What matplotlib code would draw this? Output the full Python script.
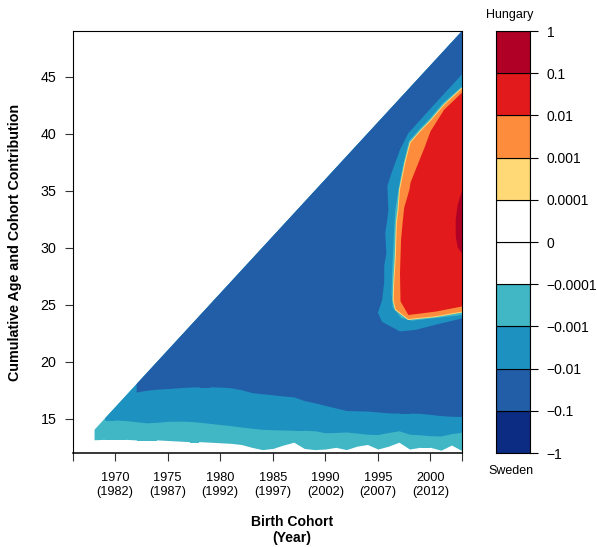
import matplotlib.pyplot as plt
from matplotlib.patches import Polygon, Rectangle

plt.rcParams['font.family'] = ['Liberation Sans', 'DejaVu Sans']

# niveles del contorno y colores (negativo = Sweden, positivo = Hungary)
niveles = ['\u22121', '\u22120.1', '\u22120.01', '\u22120.001', '\u22120.0001',
           '0', '0.0001', '0.001', '0.01', '0.1', '1']
colores = ['#0c2c84', '#225ea8', '#1d91c0', '#41b6c4', '#ffffff',
           '#ffffff', '#fed976', '#fd8d3c', '#e31a1c', '#b10026']

# ventana observada: edad maxima por cohorte
obs_cohortes = [1968, 2003]
obs_edad_max = [14, 49]

cohortes = list(range(1968, 2004))
# limite inferior de la banda -0.001..-0.0001 (por debajo blanco)
borde_blanco = [13.16, 13.2, 13.2, 13.2, 13.15, 13.15, 13.15, 13.1, 13.05, 13.0,
                13.0, 12.95, 12.9, 12.85, 12.75, 12.5, 12.3, 12.4, 12.7, 12.95,
                12.4, 12.3, 12.35, 12.5, 12.3, 12.6, 12.75, 12.35, 12.6, 12.95,
                12.35, 12.5, 12.5, 12.25, 12.7, 12.2]
# contorno -0.001
borde_teal = [14.9, 14.9, 14.9, 14.85, 14.75, 14.65, 14.7, 14.78, 14.8, 14.78,
              14.7, 14.6, 14.5, 14.4, 14.28, 14.18, 14.08, 14.04, 14.02, 14.0,
              14.0, 13.95, 13.78, 13.8, 13.85, 13.75, 13.65, 13.62, 13.8, 13.95,
              13.65, 13.6, 13.52, 13.5, 13.7, 13.83]
# contorno -0.01
borde_azul = [17.5, 17.5, 17.5, 17.4, 17.35, 17.5, 17.6, 17.65, 17.72, 17.78,
              17.8, 17.8, 17.78, 17.72, 17.55, 17.3, 17.2, 17.1, 17.0, 16.92,
              16.6, 16.4, 16.17, 15.95, 15.73, 15.7, 15.68, 15.6, 15.52, 15.5,
              15.5, 15.48, 15.38, 15.28, 15.22, 15.2]
inicio_azul_medio = 1969
inicio_azul = 1972

# zona positiva (Hungary), contornos cerrados contra el borde derecho
c_azul_medio = [2003, 2000.5, 1998.6, 1997.1, 1995.4, 1995.0, 1995.4, 1995.6, 1995.6,
                1995.8, 1995.7, 1995.9, 1996.0, 1995.9, 1996.2, 1997.1, 1997.9, 2000.5, 2003]
e_azul_medio = [23.8, 23.25, 22.8, 22.66, 23.5, 24.3, 25.4, 27.0, 28.4,
                29.5, 31.3, 32.5, 33.3, 35.4, 36.3, 38.6, 40.05, 42.7, 45.2]

c_teal = [2003, 2000.5, 1998.2, 1997.2, 1996.4, 1996.3, 1996.35, 1996.5, 1996.65,
          1996.95, 1997.15, 1997.45, 1997.95, 1998.95, 1999.9, 2001.2, 2003]
e_teal = [24.1, 23.83, 23.6, 23.85, 24.8, 26.0, 27.8, 30.7, 33.3,
          35.1, 36.1, 37.5, 39.35, 40.4, 41.3, 42.7, 44.15]

c_naranja = [2003, 2000.5, 1997.9, 1996.7, 1996.5, 1996.55, 1996.7, 1996.8, 1996.95,
             1997.1, 1997.3, 1997.6, 1998.1, 1999.05, 2000.0, 2001.3, 2003]
e_naranja = [24.4, 24.0, 23.75, 24.6, 25.4, 26.9, 29.2, 32.2, 33.3,
             35.1, 36.0, 37.4, 39.2, 40.2, 41.1, 42.5, 43.95]

c_rojo = [2003, 2000.5, 1997.9, 1997.15, 1997.1, 1997.2, 1997.35, 1997.5, 1998.0,
          1998.1, 1998.7, 1999.4, 2000.0, 2001.3, 2003]
e_rojo = [24.85, 24.4, 24.1, 25.3, 27.8, 30.7, 32.2, 33.5, 35.1,
          35.7, 37.1, 38.7, 40.2, 42.1, 43.6]

c_rojo_osc = [2003, 2002.6, 2002.4, 2002.4, 2002.6, 2003]
e_rojo_osc = [35.0, 33.8, 32.5, 31.0, 30.0, 29.5]

xticks = [1966, 1970, 1975, 1980, 1985, 1990, 1995, 2000, 2003]
xlabels = ['', '1970\n(1982)', '1975\n(1987)', '1980\n(1992)', '1985\n(1997)',
           '1990\n(2002)', '1995\n(2007)', '2000\n(2012)', '']

fig = plt.figure(figsize=(5.97, 5.47), dpi=100)
ax = fig.add_axes([0.1223, 0.1718, 0.6516, 0.7715])
ax.set_xlim(1966, 2003)
ax.set_ylim(12, 49)

dominio = Polygon([(obs_cohortes[0], 12), (obs_cohortes[1], 12),
                   (obs_cohortes[1], obs_edad_max[1]), (obs_cohortes[0], obs_edad_max[0])],
                  closed=True, facecolor='none', edgecolor='none', transform=ax.transData)
ax.add_patch(dominio)

def banda(x0, borde, color):
    i = cohortes.index(x0)
    f = ax.fill_between(cohortes[i:], borde[i:], 49, color=color, lw=0)
    f.set_clip_path(dominio)

banda(1968, borde_blanco, colores[3])
banda(inicio_azul_medio, borde_teal, colores[2])
banda(inicio_azul, borde_azul, colores[1])

def zona(cx, ey, color, borde=None, lw=0):
    p = ax.fill(cx, ey, facecolor=color, edgecolor=borde if borde else color, lw=lw)[0]
    if not borde:
        p.set_linewidth(0)
    p.set_clip_path(dominio)

zona(c_azul_medio, e_azul_medio, colores[2])
zona(c_teal, e_teal, colores[3])
zona(c_naranja, e_naranja, colores[6], borde=colores[6], lw=1.4)
zona(c_naranja, e_naranja, colores[7])
zona(c_rojo, e_rojo, colores[8])
zona(c_rojo_osc, e_rojo_osc, colores[9])

ax.set_yticks([15, 20, 25, 30, 35, 40, 45])
ax.set_xticks(xticks)
ax.set_xticklabels(xlabels, linespacing=1.12)
ax.tick_params(axis='both', length=6, width=0.8, color='#333333')
ax.tick_params(axis='y', pad=6, labelsize=10.3)
ax.tick_params(axis='x', pad=8, labelsize=9.2)
for s in ax.spines.values():
    s.set_linewidth(0.8)
ax.spines['bottom'].set_linewidth(1.1)

fig.text(15 / 597, 1 - 242 / 547, 'Cumulative Age and Cohort Contribution', rotation=90,
         ha='center', va='center', fontsize=10.3, fontweight='bold')
fig.text(292 / 597, 1 - 530 / 547, 'Birth Cohort\n(Year)', ha='center', va='center',
         fontsize=10.1, fontweight='bold', linespacing=1.2)

# leyenda de colores
cax = fig.add_axes([0.8308, 0.1718, 0.057, 0.7715])
for i, c in enumerate(colores):
    cax.add_patch(Rectangle((0, i), 1, 1, facecolor=c, edgecolor='black', lw=0.8))
cax.set_xlim(0, 1)
cax.set_ylim(0, len(colores))
cax.set_xticks([])
cax.set_yticks(range(len(niveles)))
cax.set_yticklabels(niveles)
cax.yaxis.tick_right()
cax.tick_params(axis='y', labelsize=10, length=6, width=0.8, pad=6)
for s in cax.spines.values():
    s.set_linewidth(0.8)

fig.text(510 / 597, 1 - 15 / 547, 'Hungary', ha='center', va='center', fontsize=9)
fig.text(511 / 597, 1 - 471 / 547, 'Sweden', ha='center', va='center', fontsize=9)

fig.savefig('out.png', dpi=100)
